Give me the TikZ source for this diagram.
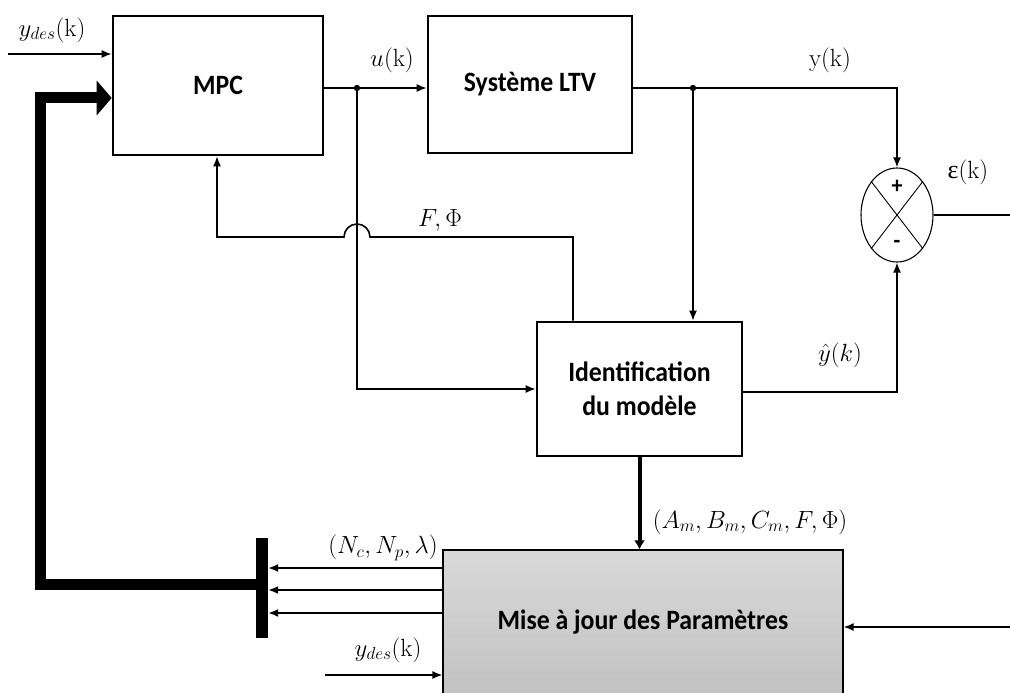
\documentclass[tikz,border=0pt]{standalone}
\usepackage[no-math]{fontspec}
\newfontfamily\boxfnt[FakeStretch=0.92]{Carlito}
\newfontfamily\grk{Liberation Serif}
\usetikzlibrary{arrows.meta,shapes.geometric,calc}
\begin{document}
\begin{tikzpicture}[x=1pt,y=-1pt,
  blk/.style={draw, line width=2.6pt, inner sep=0pt, align=center,
    font=\boxfnt\bfseries\fontsize{28}{34}\selectfont},
  conn/.style={line width=1.6pt},
  arr/.style={conn,-{Latex[length=10pt,width=8pt]}},
  lbl/.style={inner sep=0pt, font=\fontsize{26}{28}\selectfont}]
\useasboundingbox (0,0) rectangle (1010,693);
% blocks
\node[blk, minimum width=210pt, minimum height=139pt] (mpc) at (218,85.5) {MPC};
\node[blk, minimum width=204pt, minimum height=137pt] (ltv) at (530,84.5) {Système LTV};
\node[blk, minimum width=205pt, minimum height=134pt] (ident) at (639.5,389) {Identification\\du modèle};
\node[blk, line width=1.2pt, minimum width=400pt, minimum height=145pt,
      top color=gray!30, bottom color=gray!48] (params) at (643,622.5) {Mise à jour des Paramètres};
\node[draw, line width=1.1pt, ellipse, minimum width=72pt, minimum height=94pt, inner sep=0pt] (sum) at (897,215) {};
\draw[line width=0.9pt] (sum.north west) -- (sum.south east) (sum.north east) -- (sum.south west);
\node[inner sep=0pt, font=\boxfnt\bfseries\fontsize{24}{26}\selectfont] (plus) at (897,187) {+};
\node[inner sep=0pt, font=\boxfnt\bfseries\fontsize{24}{26}\selectfont] (minus) at (897,244) {-};
\node[fill=black, inner sep=0pt, minimum width=12pt, minimum height=100pt] (bar) at (262,588) {};
% coordinates
\coordinate (ydin) at (8,54);
\coordinate (ud) at (357,88);
\coordinate (yd) at (693,88);
\coordinate (fp) at (573,237);
\coordinate (hr) at (370,237);
\coordinate (fl) at (217,237);
\coordinate (yh) at (897,392);
\coordinate (eout) at (1010,215);
\coordinate (p1) at (443,568);
\coordinate (p2) at (443,590);
\coordinate (p3) at (443,613);
\coordinate (yd2) at (325,675);
\coordinate (rin) at (1010,627);
\coordinate (tb) at (262,584);
\coordinate (fc) at (40,98);
% connectors
\draw[arr] (ydin) -- (ydin -| mpc.west);
\draw[arr] (mpc.east |- ud) -- (ltv.west |- ud);
\fill (ud) circle (3.2pt);
\draw[arr] (ud) |- (ident.west);
\draw[arr] (ltv.east |- yd) -| (sum.north);
\fill (yd) circle (3.2pt);
\draw[arr] (yd) -- (yd |- ident.north);
\draw[arr] (fp |- ident.north) -- (fp) -- (hr) arc[start angle=0, end angle=180, radius=13pt] -- (fl) -- (fl |- mpc.south);
\draw[arr] (ident.east |- yh) -- (yh) -- (sum.south);
\draw[conn] (sum.east) -- (eout);
\draw[line width=4pt, -{Latex[length=9pt,width=11pt]}] (ident.south) -- (ident.south |- params.north);
\foreach \p in {p1,p2,p3} \draw[arr] (\p) -- (\p -| bar.east);
\draw[arr] (yd2) -- (yd2 -| params.west);
\draw[arr] (rin) -- (rin -| params.east);
\draw[line width=11pt, line join=miter, -{Triangle[length=15pt,width=34pt]}] (tb) -| (fc) -- (fc -| mpc.west);
% labels
\node[lbl] (l1) at (52,30) {$y_{des}(\mathrm{k})$};
\node[lbl] (l2) at (392,60) {$u(\mathrm{k})$};
\node[lbl] (l3) at (830,60) {$\mathrm{y}(\mathrm{k})$};
\node[lbl] (l4) at (440,220) {$F,\Phi$};
\node[lbl] (l5) at (840,355) {$\hat{y}(k)$};
\node[lbl] (l6) at (968,172) {{\grk ε}$(\mathrm{k})$};
\node[lbl] (l7) at (750,522) {$(A_m,B_m,C_m,F,\Phi)$};
\node[lbl] (l8) at (383,548) {$(N_c,N_p,\lambda)$};
\node[lbl] (l9) at (388,650) {$y_{des}(\mathrm{k})$};
\end{tikzpicture}
\end{document}
